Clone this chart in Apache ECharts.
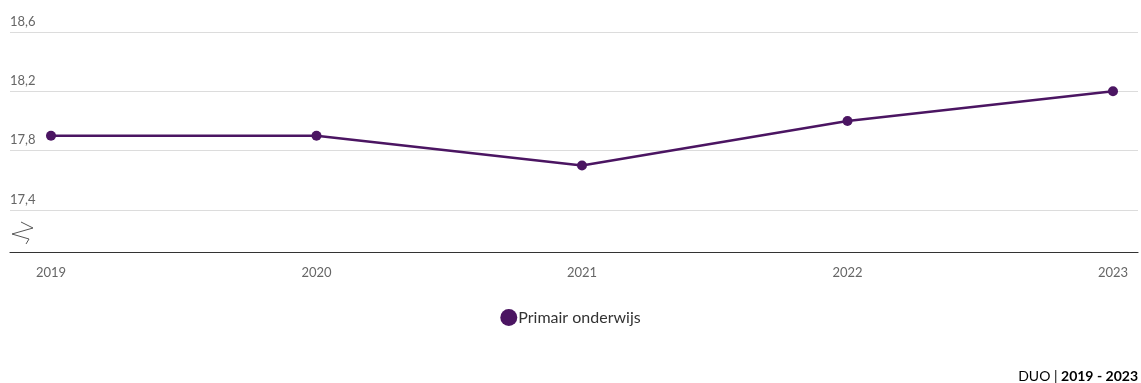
<!DOCTYPE html>
<html>
<head>
<meta charset="utf-8">
<script src="https://cdn.jsdelivr.net/npm/echarts@6/dist/echarts.min.js"></script>
<style>
  html, body { margin: 0; padding: 0; background: #fff; }
  #chart { width: 1141px; height: 383px; }
</style>
</head>
<body>
<div id="chart"></div>
<script>
// Leerlingen per leraar, primair onderwijs
const years = [2019, 2020, 2021, 2022, 2023];
const values = [17.9, 17.9, 17.7, 18.0, 18.2];
const yTicks = [17.4, 17.8, 18.2, 18.6];
const seriesName = 'Primair onderwijs';
const sourceLabel = 'DUO';
const periodLabel = '2019 - 2023';

const FONT = 'Lato, "Noto Sans", sans-serif';
const PURPLE = '#4b1562';

const chart = echarts.init(document.getElementById('chart'));
chart.setOption({
  animation: false,
  textStyle: { fontFamily: FONT },
  grid: { left: 10, right: 3, top: 32, bottom: 173, containLabel: false },
  xAxis: {
    type: 'value',
    min: 2018.8456,
    max: 2023.0942,
    offset: 42,
    axisLine: { show: true, lineStyle: { color: '#333', width: 1.2 } },
    axisTick: { show: false },
    splitLine: { show: false },
    axisLabel: {
      customValues: years,
      formatter: v => String(v),
      color: '#666',
      fontSize: 13,
      margin: 14,
      fontFamily: FONT
    }
  },
  yAxis: {
    type: 'value',
    min: 17.4,
    max: 18.6,
    interval: 0.4,
    axisLine: { show: false },
    axisTick: { show: false },
    splitLine: { lineStyle: { color: '#dcdcdc', width: 1 } },
    axisLabel: {
      inside: true,
      margin: 0,
      verticalAlign: 'bottom',
      padding: [0, 0, 4, 0],
      color: '#666',
      fontSize: 13,
      fontFamily: FONT,
      formatter: v => yTicks.some(t => Math.abs(t - v) < 1e-6) ? v.toFixed(1).replace('.', ',') : ''
    }
  },
  legend: {
    bottom: 52,
    left: 'center',
    icon: 'circle',
    itemWidth: 17,
    itemHeight: 17,
    itemGap: 20,
    textStyle: { fontSize: 16, color: '#333', fontFamily: FONT, padding: [0, 0, 0, -4] },
    data: [seriesName]
  },
  series: [{
    name: seriesName,
    type: 'line',
    data: years.map((y, i) => [y, values[i]]),
    symbol: 'circle',
    symbolSize: 10,
    lineStyle: { color: PURPLE, width: 2.5 },
    itemStyle: { color: PURPLE },
    clip: false
  }],
  graphic: [
    {
      // axis break marker
      type: 'polyline',
      shape: { points: [[21, 222], [33, 228], [12, 234], [29, 239], [26, 244]] },
      style: { stroke: '#555', lineWidth: 1, fill: null }
    },
    {
      type: 'text',
      right: 3,
      bottom: 0,
      style: {
        text: '{n|' + sourceLabel + ' | }{b|' + periodLabel + '}',
        rich: {
          n: { fontSize: 14, color: '#333', fontFamily: FONT },
          b: { fontSize: 14, color: '#333', fontWeight: 'bold', fontFamily: FONT }
        },
        textAlign: 'right',
        textVerticalAlign: 'bottom'
      }
    }
  ]
});
</script>
</body>
</html>
